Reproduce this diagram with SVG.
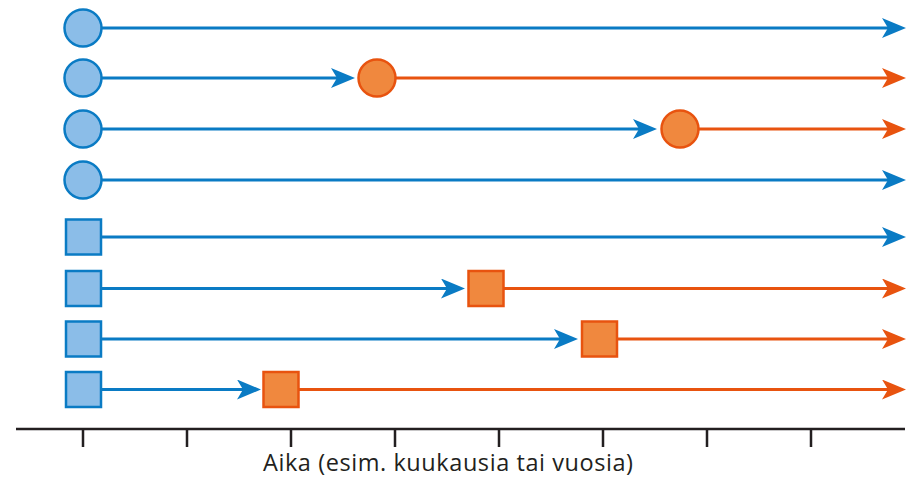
<svg xmlns="http://www.w3.org/2000/svg" width="914" height="478" viewBox="0 0 914 478">
<defs>
<style>
.bl{stroke:#0a7bc4;stroke-width:3;fill:none}
.or{stroke:#e8530f;stroke-width:3;fill:none}
.bn{fill:#8bbde8;stroke:#0a7bc4;stroke-width:2.5}
.on{fill:#f0883e;stroke:#e8530f;stroke-width:2.5}
.ax{stroke:#231f20;stroke-width:2.5;fill:none}
.lbl{font-family:"Open Sans","Noto Sans",sans-serif;font-size:23.5px;fill:#231f20}
</style>
<marker id="ab" markerUnits="userSpaceOnUse" markerWidth="26" markerHeight="22" refX="14" refY="10" orient="auto" viewBox="0 0 26 22"><path d="M0,0 L24,10 L0,20 L6,10 z" fill="#0a7bc4"/></marker>
<marker id="ao" markerUnits="userSpaceOnUse" markerWidth="26" markerHeight="22" refX="14" refY="10" orient="auto" viewBox="0 0 26 22"><path d="M0,0 L24,10 L0,20 L6,10 z" fill="#e8530f"/></marker>
</defs>
<g id="connectors">
<line class="bl" x1="100" y1="28" x2="896" y2="28" marker-end="url(#ab)"/>
<line class="bl" x1="100" y1="78" x2="345" y2="78" marker-end="url(#ab)"/>
<line class="or" x1="395" y1="78" x2="896" y2="78" marker-end="url(#ao)"/>
<line class="bl" x1="100" y1="129" x2="647" y2="129" marker-end="url(#ab)"/>
<line class="or" x1="698" y1="129" x2="896" y2="129" marker-end="url(#ao)"/>
<line class="bl" x1="100" y1="180" x2="896" y2="180" marker-end="url(#ab)"/>
<line class="bl" x1="100" y1="237" x2="896" y2="237" marker-end="url(#ab)"/>
<line class="bl" x1="100" y1="288.5" x2="455" y2="288.5" marker-end="url(#ab)"/>
<line class="or" x1="503" y1="288.5" x2="896" y2="288.5" marker-end="url(#ao)"/>
<line class="bl" x1="100" y1="339" x2="568" y2="339" marker-end="url(#ab)"/>
<line class="or" x1="617" y1="339" x2="896" y2="339" marker-end="url(#ao)"/>
<line class="bl" x1="100" y1="389.5" x2="251" y2="389.5" marker-end="url(#ab)"/>
<line class="or" x1="298" y1="389.5" x2="896" y2="389.5" marker-end="url(#ao)"/>
</g>
<g id="n1"><circle class="bn" cx="83" cy="28" r="18.5"/></g>
<g id="n2"><circle class="bn" cx="83" cy="78" r="18.5"/></g>
<g id="n3"><circle class="bn" cx="83" cy="129" r="18.5"/></g>
<g id="n4"><circle class="bn" cx="83" cy="180" r="18.5"/></g>
<g id="n5"><rect class="bn" x="66" y="219.5" width="35" height="35"/></g>
<g id="n6"><rect class="bn" x="66" y="271" width="35" height="35"/></g>
<g id="n7"><rect class="bn" x="66" y="321.5" width="35" height="35"/></g>
<g id="n8"><rect class="bn" x="66" y="372" width="35" height="35"/></g>
<g id="o2"><circle class="on" cx="377" cy="78" r="18.5"/></g>
<g id="o3"><circle class="on" cx="680" cy="129" r="18.5"/></g>
<g id="o6"><rect class="on" x="468.5" y="271" width="35" height="35"/></g>
<g id="o7"><rect class="on" x="582" y="321.5" width="35" height="35"/></g>
<g id="o8"><rect class="on" x="263.5" y="372" width="35" height="35"/></g>
<g id="axis">
<line class="ax" x1="16" y1="429" x2="905" y2="429"/>
<path class="ax" d="M83,429V447M187,429V447M291,429V447M395,429V447M499,429V447M603,429V447M707,429V447M811,429V447"/>
<text class="lbl" x="263" y="471" textLength="370" lengthAdjust="spacing">Aika (esim. kuukausia tai vuosia)</text>
</g>
</svg>
